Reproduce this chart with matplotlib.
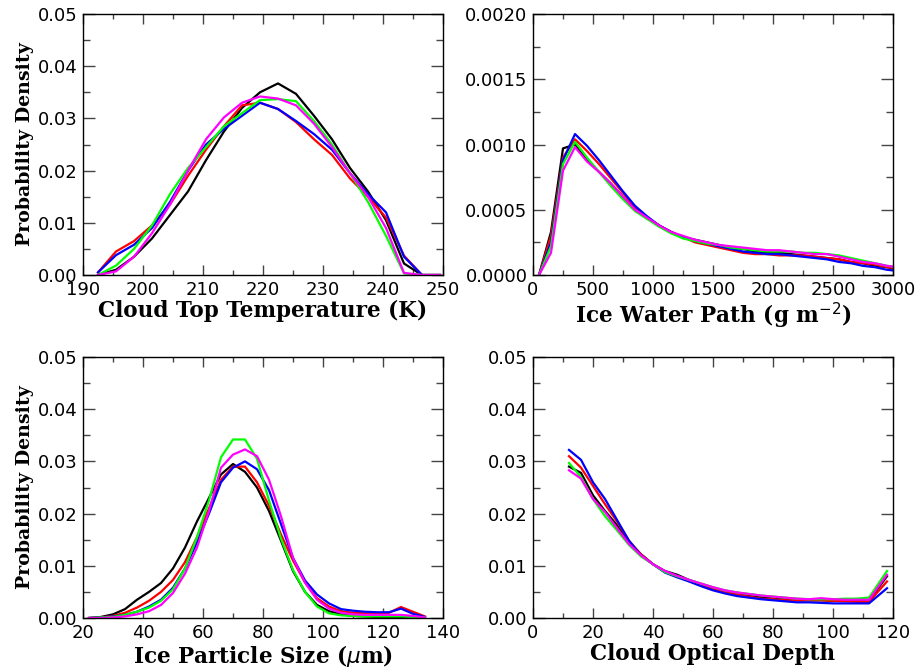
import matplotlib
matplotlib.use("Agg")
import matplotlib.pyplot as plt
from matplotlib.ticker import MultipleLocator, FormatStrFormatter

COLORS = ["black", "red", "blue", "#00ff00", "magenta"]

# Cloud top temperature (K)
ctt_x = [192.5, 195.5, 198.5, 201.5, 204.5, 207.5, 210.5, 213.5, 216.5, 219.5,
         222.5, 225.5, 228.5, 231.5, 234.5, 237.5, 240.5, 243.5, 246.5, 249.5]
ctt_black = [0.0, 0.001, 0.0035, 0.007, 0.0115, 0.016, 0.022, 0.0275, 0.032, 0.035,
             0.0367, 0.0347, 0.0305, 0.026, 0.0205, 0.016, 0.0105, 0.0022, 0.0, 0.0]
ctt_red = [0.0005, 0.0045, 0.0065, 0.0095, 0.0135, 0.019, 0.024, 0.0285, 0.0325, 0.033,
           0.0318, 0.0293, 0.026, 0.023, 0.0185, 0.015, 0.011, 0.0037, 0.0, 0.0]
ctt_blue = [0.0005, 0.0038, 0.0058, 0.009, 0.014, 0.02, 0.025, 0.028, 0.0305, 0.033,
            0.0318, 0.0295, 0.027, 0.024, 0.0195, 0.0155, 0.012, 0.0035, 0.0, 0.0]
ctt_green = [0.0, 0.0018, 0.005, 0.0095, 0.0155, 0.0205, 0.0245, 0.0285, 0.031, 0.0335,
             0.0337, 0.0333, 0.0295, 0.025, 0.0195, 0.014, 0.0075, 0.0003, 0.0, 0.0]
ctt_magenta = [0.0, 0.0007, 0.0035, 0.008, 0.0135, 0.02, 0.026, 0.0302, 0.033, 0.0342,
               0.0338, 0.0325, 0.029, 0.0245, 0.0195, 0.015, 0.009, 0.0004, 0.0, 0.0]

# Ice water path (g m-2)
iwp_x = [50, 150, 250, 350, 450, 550, 650, 750, 850, 950, 1050, 1150, 1250, 1350, 1450,
         1550, 1650, 1750, 1850, 1950, 2050, 2150, 2250, 2350, 2450, 2550, 2650, 2750,
         2850, 2950, 3050]
iwp_black = [0, 0.00033, 0.00097, 0.00100, 0.00088, 0.00079, 0.0007, 0.0006, 0.00051,
             0.00044, 0.00038, 0.00033, 0.00029, 0.00027, 0.00025, 0.00023, 0.00021,
             0.0002, 0.00018, 0.00017, 0.00017, 0.00016, 0.00015, 0.00014, 0.00013,
             0.00012, 0.0001, 0.00009, 0.00007, 0.00006, 0.00004]
iwp_red = [0, 0.0003, 0.0009, 0.00104, 0.00095, 0.00085, 0.00074, 0.00063, 0.00052,
           0.00044, 0.00038, 0.00033, 0.00029, 0.00025, 0.00023, 0.00021, 0.00019,
           0.00017, 0.00016, 0.00016, 0.00015, 0.00015, 0.00015, 0.00014, 0.00013,
           0.00012, 0.0001, 0.00009, 0.00008, 0.00006, 0.00005]
iwp_blue = [0, 0.00025, 0.00088, 0.00108, 0.00099, 0.00088, 0.00076, 0.00064, 0.00053,
            0.00045, 0.00038, 0.00033, 0.00029, 0.00026, 0.00024, 0.00022, 0.0002,
            0.00018, 0.00017, 0.00016, 0.00016, 0.00015, 0.00014, 0.00013, 0.00012,
            0.0001, 0.00009, 0.00007, 0.00006, 0.00004, 0.00003]
iwp_green = [0, 0.00022, 0.00085, 0.00102, 0.0009, 0.00079, 0.00068, 0.00058, 0.00049,
             0.00043, 0.00037, 0.00032, 0.00028, 0.00026, 0.00024, 0.00023, 0.00021,
             0.0002, 0.00019, 0.00018, 0.00018, 0.00018, 0.00017, 0.00017, 0.00016,
             0.00015, 0.00013, 0.00011, 0.00009, 0.00007, 0.00006]
iwp_magenta = [0, 0.00017, 0.0008, 0.00098, 0.00087, 0.00079, 0.0007, 0.0006, 0.0005,
               0.00044, 0.00038, 0.00033, 0.0003, 0.00027, 0.00025, 0.00023, 0.00022,
               0.00021, 0.0002, 0.00019, 0.00019, 0.00018, 0.00017, 0.00016, 0.00016,
               0.00014, 0.00012, 0.0001, 0.00009, 0.00007, 0.00006]

# Ice particle size (um)
ips_x = [22, 26, 30, 34, 38, 42, 46, 50, 54, 58, 62, 66, 70, 74, 78, 82, 86, 90, 94, 98,
         102, 106, 110, 114, 118, 122, 126, 130, 134]
ips_black = [0, 0.0002, 0.0007, 0.0017, 0.0035, 0.005, 0.0067, 0.0095, 0.0135, 0.0185,
             0.023, 0.0275, 0.0295, 0.028, 0.025, 0.0205, 0.0148, 0.009, 0.005, 0.0025,
             0.0013, 0.0007, 0.0004, 0.0003, 0.0002, 0.0002, 0.0002, 0.0001, 0.0]
ips_red = [0, 0.0001, 0.0004, 0.001, 0.002, 0.0033, 0.005, 0.0073, 0.0107, 0.0155,
           0.021, 0.0265, 0.029, 0.029, 0.026, 0.0215, 0.016, 0.011, 0.0068, 0.0038,
           0.0022, 0.0013, 0.001, 0.0009, 0.0009, 0.001, 0.0021, 0.0012, 0.0003]
ips_blue = [0, 0.0001, 0.0003, 0.0006, 0.0012, 0.0022, 0.0035, 0.0058, 0.0095, 0.0145,
            0.02, 0.026, 0.0288, 0.03, 0.0285, 0.0245, 0.018, 0.0115, 0.0072, 0.0045,
            0.0028, 0.0017, 0.0014, 0.0012, 0.0011, 0.0011, 0.0018, 0.0008, 0.0002]
ips_green = [0, 0.0001, 0.0002, 0.0006, 0.0012, 0.002, 0.0033, 0.0055, 0.0095, 0.0155,
             0.0225, 0.0308, 0.0342, 0.0342, 0.0305, 0.0225, 0.0152, 0.0092, 0.005,
             0.0022, 0.0009, 0.0005, 0.0004, 0.0003, 0.0003, 0.0003, 0.0003, 0.0002,
             0.0001]
ips_magenta = [0, 0.0, 0.0001, 0.0003, 0.0007, 0.0013, 0.0025, 0.0048, 0.0085, 0.0135,
               0.0205, 0.0288, 0.0313, 0.0323, 0.031, 0.0265, 0.0195, 0.0115, 0.0068,
               0.0035, 0.0018, 0.001, 0.0007, 0.0006, 0.0006, 0.0006, 0.0006, 0.0004,
               0.0001]

# Cloud optical depth
cod_x = [12, 16, 20, 24, 28, 32, 36, 40, 44, 48, 52, 56, 60, 64, 68, 72, 76, 80, 84, 88,
         92, 96, 100, 104, 108, 112, 118]
cod_black = [0.029, 0.0278, 0.0235, 0.0205, 0.0178, 0.0145, 0.0122, 0.0103, 0.009,
             0.0083, 0.0073, 0.0065, 0.0057, 0.0052, 0.0047, 0.0044, 0.004, 0.0038,
             0.0036, 0.0034, 0.0034, 0.0034, 0.0033, 0.0033, 0.0033, 0.0033, 0.008]
cod_red = [0.031, 0.0288, 0.0253, 0.0218, 0.0185, 0.0148, 0.0122, 0.0103, 0.0088,
           0.008, 0.0071, 0.0063, 0.0056, 0.005, 0.0045, 0.0041, 0.0037, 0.0036, 0.0034,
           0.0034, 0.0034, 0.0034, 0.0033, 0.0032, 0.0031, 0.0031, 0.007]
cod_blue = [0.0322, 0.0303, 0.026, 0.0228, 0.0188, 0.0148, 0.012, 0.0103, 0.0087,
            0.0078, 0.007, 0.0061, 0.0053, 0.0047, 0.0042, 0.0039, 0.0036, 0.0034,
            0.0032, 0.003, 0.003, 0.0029, 0.0028, 0.0028, 0.0028, 0.0028, 0.0057]
cod_green = [0.0297, 0.027, 0.0228, 0.0195, 0.0168, 0.014, 0.0118, 0.0103, 0.0088,
             0.008, 0.0073, 0.0066, 0.0059, 0.0053, 0.0049, 0.0046, 0.0043, 0.0041,
             0.0039, 0.0037, 0.0036, 0.0036, 0.0036, 0.0037, 0.0037, 0.0039, 0.009]
cod_magenta = [0.0283, 0.0267, 0.0228, 0.0203, 0.0172, 0.0142, 0.012, 0.0103, 0.009,
               0.0081, 0.0073, 0.0066, 0.0059, 0.0053, 0.0049, 0.0046, 0.0043, 0.0041,
               0.0039, 0.0037, 0.0036, 0.0038, 0.0036, 0.0035, 0.0035, 0.0035, 0.0083]

XLABEL_FONT = dict(family="DejaVu Serif", weight="bold", size=15.5)
YLABEL_FONT = dict(family="DejaVu Serif", weight="bold", size=13.7)

panels = [
    # rect (px), x, series, xlim, ylim, xmajor, xminor, ymajor, yminor, fmt, xlabel, ylabel
    ([83, 14, 360, 261], ctt_x, [ctt_black, ctt_red, ctt_blue, ctt_green, ctt_magenta],
     (190, 250), (0, 0.05), 10, 5, 0.01, 0.005, "%.2f",
     "Cloud Top Temperature (K)", "Probability Density"),
    ([533, 14, 360, 261], iwp_x, [iwp_black, iwp_red, iwp_blue, iwp_green, iwp_magenta],
     (0, 3000), (0, 0.002), 500, 250, 0.0005, 0.00025, "%.4f",
     "Ice Water Path (g m$^{-2}$)", None),
    ([83, 357, 360, 261], ips_x, [ips_black, ips_red, ips_blue, ips_green, ips_magenta],
     (20, 140), (0, 0.05), 20, 10, 0.01, 0.005, "%.2f",
     "Ice Particle Size ($\\mu$m)", "Probability Density"),
    ([533, 357, 360, 261], cod_x, [cod_black, cod_red, cod_blue, cod_green, cod_magenta],
     (0, 120), (0, 0.05), 20, 10, 0.01, 0.005, "%.2f",
     "Cloud Optical Depth", None),
]

W, H = 919, 668
fig = plt.figure(figsize=(W / 100, H / 100), dpi=100)

for rect, x, series, xlim, ylim, xmaj, xmin, ymaj, ymin, fmt, xlabel, ylabel in panels:
    l, t, w, h = rect
    ax = fig.add_axes([l / W, (H - t - h) / H, w / W, h / H])
    for ys, c in zip(series, COLORS):
        ax.plot(x, ys, color=c, lw=1.6)
    ax.set_xlim(*xlim)
    ax.set_ylim(*ylim)
    ax.xaxis.set_major_locator(MultipleLocator(xmaj))
    ax.xaxis.set_minor_locator(MultipleLocator(xmin))
    ax.yaxis.set_major_locator(MultipleLocator(ymaj))
    ax.yaxis.set_minor_locator(MultipleLocator(ymin))
    ax.yaxis.set_major_formatter(FormatStrFormatter(fmt))
    ax.tick_params(which="both", direction="in", top=True, right=True,
                   labelsize=13, color="#444444", width=1)
    ax.tick_params(axis="y", which="major", length=8.6, pad=4)
    ax.tick_params(axis="y", which="minor", length=5)
    ax.tick_params(axis="x", which="major", length=7.2, pad=4)
    ax.tick_params(axis="x", which="minor", length=3.6)
    for s in ax.spines.values():
        s.set_linewidth(1)
    ax.set_xlabel(xlabel, **XLABEL_FONT)
    ax.xaxis.set_label_coords(0.5, -0.097)
    if ylabel:
        ax.set_ylabel(ylabel, **YLABEL_FONT)
        ax.yaxis.set_label_coords(-0.135, 0.5)

fig.savefig("out.png", dpi=100)
